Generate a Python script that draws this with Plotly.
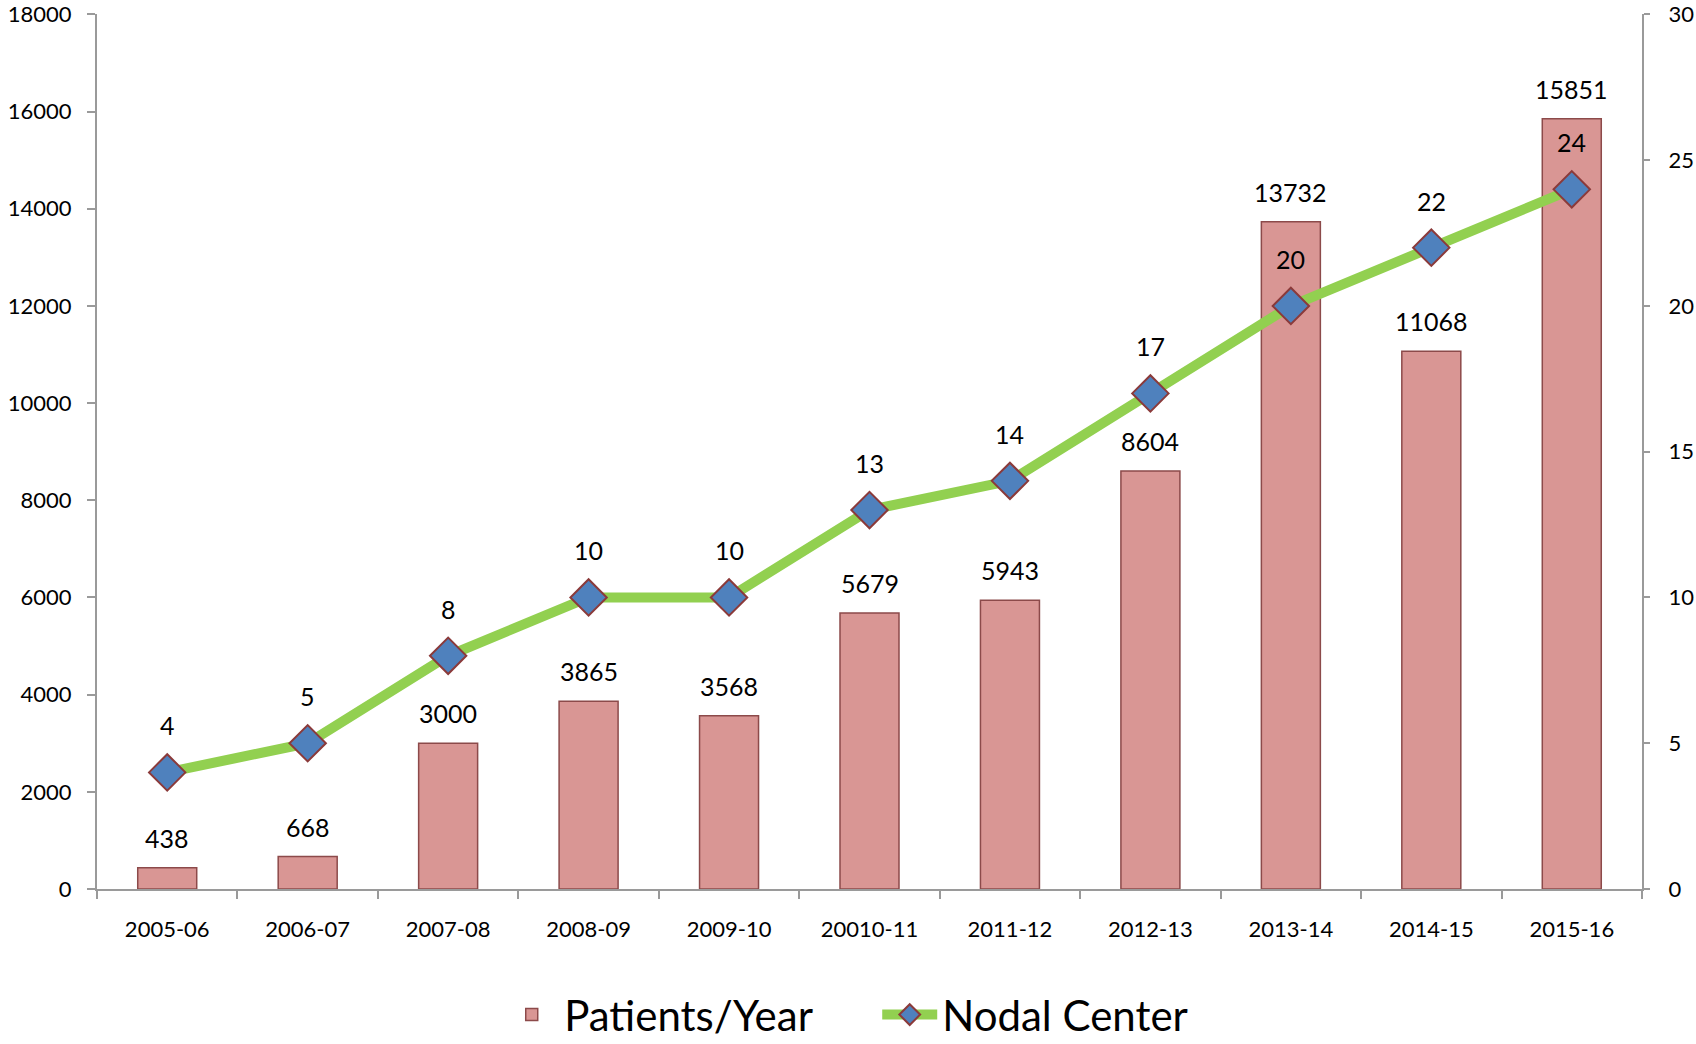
import plotly.graph_objects as go

categories = ["2005-06", "2006-07", "2007-08", "2008-09", "2009-10", "20010-11",
              "2011-12", "2012-13", "2013-14", "2014-15", "2015-16"]
patients = [438, 668, 3000, 3865, 3568, 5679, 5943, 8604, 13732, 11068, 15851]
nodal = [4, 5, 8, 10, 10, 13, 14, 17, 20, 22, 24]
left_ticks = [0, 2000, 4000, 6000, 8000, 10000, 12000, 14000, 16000, 18000]
right_ticks = [0, 5, 10, 15, 20, 25, 30]

FONT = "Lato, Calibri, sans-serif"
AXIS_GREY = "#9a9a9a"

fig = go.Figure()
fig.add_trace(go.Bar(
    x=categories, y=patients, name="Patients/Year",
    marker=dict(color="#d99694", line=dict(color="#8c4a4a", width=1.5)),
    yaxis="y",
))
fig.add_trace(go.Scatter(
    x=categories, y=nodal, name="Nodal Center", mode="lines+markers",
    line=dict(color="#92d050", width=10),
    marker=dict(symbol="diamond", size=28, color="#4f81bd",
                line=dict(color="#8b3a3a", width=2)),
    yaxis="y2",
))

annotations = []
for c, v in zip(categories, patients):
    annotations.append(dict(x=c, y=v, xref="x", yref="y", text=str(v),
                            showarrow=False, yanchor="middle", yshift=30,
                            font=dict(size=25, color="black", family=FONT)))
for c, v in zip(categories, nodal):
    annotations.append(dict(x=c, y=v, xref="x", yref="y2", text=str(v),
                            showarrow=False, yanchor="middle", yshift=47,
                            font=dict(size=25, color="black", family=FONT)))

fig.update_layout(
    width=1696, height=1044,
    margin=dict(l=97, r=54, t=14, b=155, autoexpand=False),
    paper_bgcolor="white", plot_bgcolor="white",
    font=dict(family=FONT, color="black"),
    bargap=0.58,
    showlegend=True,
    legend=dict(orientation="h", x=0.505, xanchor="center",
                yref="container", y=0.028, yanchor="middle",
                font=dict(size=42, family=FONT), itemwidth=55,
                entrywidth=308, entrywidthmode="pixels",
                tracegroupgap=0, itemsizing="trace"),
    xaxis=dict(type="category", range=[-0.5, len(categories) - 0.5],
               tickson="boundaries", ticks="outside", ticklen=8,
               tickwidth=2, tickcolor=AXIS_GREY, showline=True, linecolor=AXIS_GREY,
               linewidth=2, showgrid=False, tickfont=dict(size=22),
               ticklabelstandoff=20, automargin=False),
    yaxis=dict(range=[0, 18009], tickvals=left_ticks, ticktext=[str(t) for t in left_ticks],
               ticks="outside", ticklen=8,
               tickwidth=2, tickcolor=AXIS_GREY, showline=True, linecolor=AXIS_GREY,
               linewidth=2, showgrid=False, zeroline=False, tickfont=dict(size=22),
               ticklabelstandoff=11, automargin=False, ticklabeloverflow="allow"),
    yaxis2=dict(range=[0, 30.015], tickvals=right_ticks, ticktext=[str(t) for t in right_ticks],
                overlaying="y", side="right",
                ticks="outside", ticklen=6, tickwidth=2, tickcolor=AXIS_GREY,
                showline=True, linecolor=AXIS_GREY, linewidth=2, showgrid=False,
                zeroline=False, tickfont=dict(size=22), ticklabelstandoff=14,
                automargin=False, ticklabeloverflow="allow"),
    annotations=annotations,
)

fig.write_html("out.html", config={"displayModeBar": False},
               post_script="document.body.style.margin='0';")
